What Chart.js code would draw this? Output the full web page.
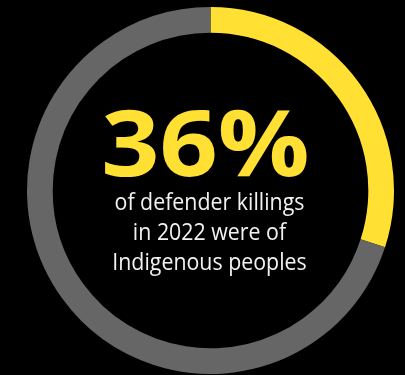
<!DOCTYPE html>
<html>
<head>
<meta charset="utf-8">
<script src="https://cdn.jsdelivr.net/npm/chart.js@4"></script>
<style>
  html, body { margin: 0; padding: 0; background: #000; }
  #wrap { width: 405px; height: 375px; position: relative; }
</style>
</head>
<body>
<div id="wrap"><canvas id="chart"></canvas></div>
<script>
// share of the ring, as drawn
var labels = ['Indigenous peoples', 'Other'];
var values = [30, 70];
var colors = ['#ffe033', '#666666'];

var bigText = '36%';
var lines = ['of defender killings', 'in 2022 were of', 'Indigenous peoples'];

// center text (stretched a bit to mimic the original typeface)
var centerText = {
    id: 'centerText',
    afterDraw: function (chart) {
        var ctx = chart.ctx;
        var meta = chart.getDatasetMeta(0).data[0];
        var cx = meta.x, cy = meta.y;
        ctx.save();
        ctx.textAlign = 'center';
        ctx.textBaseline = 'alphabetic';
        ctx.fillStyle = colors[0];
        ctx.font = 'bold 91px "Open Sans"';
        ctx.save();
        ctx.translate(cx - 5, cy - 15);
        ctx.scale(1.12, 1);
        ctx.fillText(bigText, 0, 0);
        ctx.restore();
        ctx.fillStyle = '#f2f2f2';
        ctx.font = '24px "Open Sans"';
        for (var i = 0; i < lines.length; i++) {
            ctx.save();
            ctx.translate(cx - 1, cy + 19 + i * 30);
            ctx.scale(0.89, 1);
            ctx.fillText(lines[i], 0, 0);
            ctx.restore();
        }
        ctx.restore();
    }
};

var ctx = document.getElementById('chart').getContext('2d');
var chart = new Chart(ctx, {
    type: 'doughnut',
    data: {
        labels: labels,
        datasets: [{
            data: values,
            backgroundColor: colors,
            borderWidth: 0
        }]
    },
    options: {
        responsive: true,
        maintainAspectRatio: false,
        animation: false,
        cutout: '86%',
        layout: { padding: { left: 27, right: 11, top: 7, bottom: 1 } },
        plugins: {
            legend: { display: false },
            tooltip: { enabled: false }
        }
    },
    plugins: [centerText]
});
</script>
</body>
</html>
